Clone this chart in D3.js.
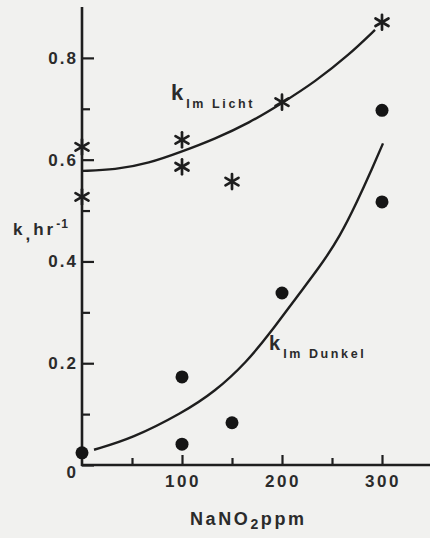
<!DOCTYPE html>
<html>
<head>
<meta charset="utf-8">
<script src="https://cdn.jsdelivr.net/npm/d3@7"></script>
<style>
  html, body { margin: 0; padding: 0; background: #f1f1ef; }
  svg { display: block; }
  text { font-family: "Liberation Sans", Arial, sans-serif; fill: #2b2b2b; }
</style>
</head>
<body>
<svg id="chart" width="430" height="538"></svg>
<script>
// Rate constant k (hr^-1) versus NaNO2 concentration (ppm)
const lightX = [0, 0, 100, 100, 150, 200, 300];
const lightK = [0.625, 0.527, 0.639, 0.586, 0.557, 0.713, 0.870];
const darkX = [0, 100, 100, 150, 200, 300, 300];
const darkK = [0.024, 0.173, 0.041, 0.083, 0.338, 0.697, 0.517];

// hand-fitted trend curves
const lightCurveX = [0, 33, 67, 100, 133, 167, 200, 233, 267, 293];
const lightCurveK = [0.578, 0.580, 0.593, 0.616, 0.641, 0.672, 0.711, 0.753, 0.806, 0.855];
const darkCurveX = [12, 50, 100, 133, 165, 188, 215, 238, 258, 276, 288, 301];
const darkCurveK = [0.030, 0.052, 0.102, 0.144, 0.203, 0.259, 0.331, 0.390, 0.449, 0.521, 0.573, 0.632];

const yMajor = [0, 0.2, 0.4, 0.6, 0.8];
const yMajorLabels = ["0", "0.2", "0.4", "0.6", "0.8"];
const yMinor = [0.1, 0.3, 0.5, 0.7];
const xMajor = [100, 200, 300];
const xMajorLabels = ["100", "200", "300"];
const xMinor = [50, 150, 250];

const svg = d3.select("#chart");
const ink = "#1e1e1e";

const x = d3.scaleLinear().domain([0, 348]).range([82, 430]);
const y = d3.scaleLinear().domain([0, 0.9]).range([465, 7]);

// axes
const yAxisMajor = d3.axisRight(y).tickValues(yMajor).tickSize(12).tickFormat("");
const yAxisMinor = d3.axisRight(y).tickValues(yMinor).tickSize(8).tickFormat("");
const xAxisMajor = d3.axisTop(x).tickValues(xMajor).tickSize(10).tickFormat("");
const xAxisMinor = d3.axisTop(x).tickValues(xMinor).tickSize(7).tickFormat("");

function styleAxis(g) {
  g.select(".domain").remove();
  g.selectAll(".tick line").attr("stroke", ink).attr("stroke-width", 2.2);
}
svg.append("g").attr("transform", `translate(${x(0)},0)`).call(yAxisMajor).call(styleAxis);
svg.append("g").attr("transform", `translate(${x(0)},0)`).call(yAxisMinor).call(styleAxis);
svg.append("g").attr("transform", `translate(0,${y(0)})`).call(xAxisMajor).call(styleAxis);
svg.append("g").attr("transform", `translate(0,${y(0)})`).call(xAxisMinor).call(styleAxis);

// axis lines
svg.append("line").attr("x1", x(0)).attr("x2", x(0)).attr("y1", y(0.9)).attr("y2", y(0) + 1)
  .attr("stroke", ink).attr("stroke-width", 2.6);
svg.append("line").attr("x1", x(0) - 1).attr("x2", x(348)).attr("y1", y(0)).attr("y2", y(0))
  .attr("stroke", ink).attr("stroke-width", 2.6);

// tick labels
svg.selectAll(".ylab").data(yMajor).join("text")
  .attr("class", "ylab")
  .attr("x", 78).attr("y", (d, i) => y(d) + (i === 0 ? 13 : 6))
  .attr("text-anchor", "end")
  .attr("font-size", 17).attr("font-weight", "bold").attr("letter-spacing", 2)
  .text((d, i) => yMajorLabels[i]);

svg.selectAll(".xlab").data(xMajor).join("text")
  .attr("class", "xlab")
  .attr("x", d => x(d) + 1).attr("y", 487)
  .attr("text-anchor", "middle")
  .attr("font-size", 17).attr("font-weight", "bold").attr("letter-spacing", 2.5)
  .text((d, i) => xMajorLabels[i]);

// axis titles
const xt = svg.append("text").attr("x", 190).attr("y", 525)
  .attr("font-size", 18).attr("font-weight", "bold").attr("letter-spacing", 2.6);
xt.append("tspan").text("NaNO");
xt.append("tspan").attr("font-size", 14).attr("dy", 4).text("2");
xt.append("tspan").attr("dy", -4).text("ppm");

const yt = svg.append("text").attr("x", 13).attr("y", 235)
  .attr("font-size", 17).attr("font-weight", "bold").attr("letter-spacing", 3);
yt.append("tspan").text("k");
yt.append("tspan").attr("dy", 5).text(",");
yt.append("tspan").attr("dy", -5).text("hr");
yt.append("tspan").attr("font-size", 12).attr("dy", -7).attr("letter-spacing", 1).text("-1");

// curves
const line = d3.line().x(d => x(d[0])).y(d => y(d[1])).curve(d3.curveBasis);
svg.append("path")
  .attr("d", line(d3.zip(lightCurveX, lightCurveK)))
  .attr("fill", "none").attr("stroke", ink).attr("stroke-width", 2.4);
svg.append("path")
  .attr("d", line(d3.zip(darkCurveX, darkCurveK)))
  .attr("fill", "none").attr("stroke", ink).attr("stroke-width", 2.4);

// asterisk markers (light)
const starG = svg.selectAll(".star").data(d3.zip(lightX, lightK)).join("g")
  .attr("class", "star")
  .attr("transform", d => `translate(${x(d[0])},${y(d[1])})`);
[0, 60, 120].forEach(a => {
  starG.append("line")
    .attr("x1", 0).attr("y1", -7.5).attr("x2", 0).attr("y2", 7.5)
    .attr("transform", `rotate(${a})`)
    .attr("stroke", ink).attr("stroke-width", 2.7).attr("stroke-linecap", "round");
});

// filled dots (dark)
svg.selectAll(".dot").data(d3.zip(darkX, darkK)).join("circle")
  .attr("class", "dot")
  .attr("cx", d => x(d[0])).attr("cy", d => y(d[1])).attr("r", 6.5)
  .attr("fill", "#151515");

// curve labels
const l1 = svg.append("text").attr("x", 171).attr("y", 100).attr("font-weight", "bold");
l1.append("tspan").attr("font-size", 22).text("k");
l1.append("tspan").attr("font-size", 12.5).attr("dy", 8).attr("dx", 3).attr("letter-spacing", 2.6).text("Im Licht");

const l2 = svg.append("text").attr("x", 269).attr("y", 350).attr("font-weight", "bold");
l2.append("tspan").attr("font-size", 20).text("k");
l2.append("tspan").attr("font-size", 12.5).attr("dy", 8).attr("dx", 3).attr("letter-spacing", 2.6).text("Im Dunkel");
</script>
</body>
</html>
